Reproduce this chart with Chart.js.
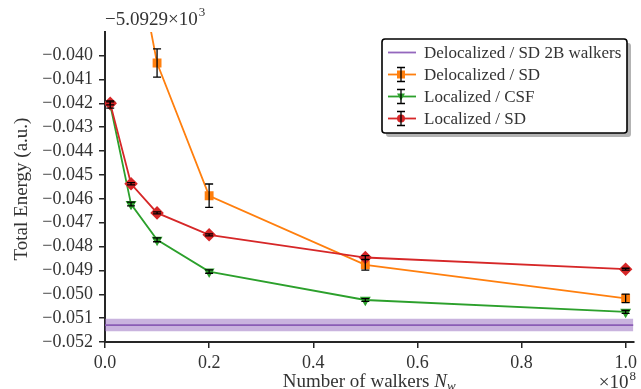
<!DOCTYPE html>
<html>
<head>
<meta charset="utf-8">
<script src="https://cdn.jsdelivr.net/npm/chart.js@4/dist/chart.umd.min.js"></script>
<style>
  html, body { margin: 0; padding: 0; background: #fff; }
  #wrap { width: 641px; height: 389px; }
</style>
</head>
<body>
<div id="wrap"><canvas id="chart"></canvas></div>
<script>
// data (x in units of 1e8 walkers, y offset from -5.0929e3)
var walkers = [0.01, 0.05, 0.1, 0.2, 0.5, 1.0];
var delocSD = [-0.0300, -0.0346, -0.04031, -0.04587, -0.04877, -0.05017];
var delocSDErr = [0.0006, 0.0006, 0.00059, 0.00049, 0.00022, 0.00018];
var locCSF = [-0.04205, -0.04622, -0.04772, -0.04905, -0.05024, -0.05074];
var locCSFErr = [0.00015, 0.00008, 0.00008, 0.00007, 0.00006, 0.00006];
var locSD = [-0.04200, -0.04537, -0.04659, -0.04751, -0.04846, -0.04895];
var locSDErr = [0.00006, 0.00005, 0.00004, 0.00004, 0.00008, 0.00004];
var band2B = -0.05129;
var band2BErr = 0.00026;
var xRange = [0, 1.015];
var yRange = [-0.052, -0.03901];
var xTicks = [0, 0.2, 0.4, 0.6, 0.8, 1.0];
var yTicks = [-0.052, -0.051, -0.050, -0.049, -0.048, -0.047, -0.046, -0.045, -0.044, -0.043, -0.042, -0.041, -0.040];
var legendLabels = ['Delocalized / SD 2B walkers', 'Delocalized / SD', 'Localized / CSF', 'Localized / SD'];

var FONT = '"Liberation Serif", "DejaVu Serif", serif';
var TXT = '#333';
var PURPLE = '#9467bd', ORANGE = '#ff7f0e', GREEN = '#2ca02c', RED = '#d62728';

function pts(xs, ys) {
    var out = [];
    for (var i = 0; i < xs.length; i++) out.push({ x: xs[i], y: ys[i] });
    return out;
}

// error bars drawn through the scales
var errorBars = {
    id: 'errorBars',
    afterDatasetsDraw: function(chart) {
        var ctx = chart.ctx, xs = chart.scales.x, ys = chart.scales.y, a = chart.chartArea;
        ctx.save();
        ctx.beginPath();
        ctx.rect(a.left, a.top, a.right - a.left, a.bottom - a.top);
        ctx.clip();
        ctx.strokeStyle = '#000';
        ctx.lineWidth = 1.3;
        chart.data.datasets.forEach(function(ds) {
            if (!ds.errors) return;
            for (var i = 0; i < ds.data.length; i++) {
                var px = xs.getPixelForValue(ds.data[i].x);
                var y1 = ys.getPixelForValue(ds.data[i].y + ds.errors[i]);
                var y2 = ys.getPixelForValue(ds.data[i].y - ds.errors[i]);
                ctx.beginPath();
                ctx.moveTo(px, y1); ctx.lineTo(px, y2);
                ctx.moveTo(px - 4, y1); ctx.lineTo(px + 4, y1);
                ctx.moveTo(px - 4, y2); ctx.lineTo(px + 4, y2);
                ctx.stroke();
            }
        });
        ctx.restore();
    }
};

// axis titles, offset texts and the boxed legend
var decorations = {
    id: 'decorations',
    afterDraw: function(chart) {
        var ctx = chart.ctx, a = chart.chartArea;
        ctx.save();
        ctx.fillStyle = TXT;
        ctx.textBaseline = 'alphabetic';

        // y title
        ctx.save();
        ctx.translate(27, (a.top + a.bottom) / 2 + 2);
        ctx.rotate(-Math.PI / 2);
        ctx.textAlign = 'center';
        ctx.font = '19px ' + FONT;
        ctx.fillText('Total Energy (a.u.)', 0, 0);
        ctx.restore();

        // x title with italic N and subscript w
        ctx.font = '19px ' + FONT;
        var t1 = 'Number of walkers ';
        var w1 = ctx.measureText(t1).width;
        ctx.font = 'italic 19px ' + FONT;
        var w2 = ctx.measureText('N').width;
        ctx.font = 'italic 13px ' + FONT;
        var w3 = ctx.measureText('w').width;
        var start = (a.left + a.right) / 2 - (w1 + w2 + w3) / 2;
        ctx.textAlign = 'left';
        ctx.font = '19px ' + FONT;
        ctx.fillText(t1, start, 387);
        ctx.font = 'italic 19px ' + FONT;
        ctx.fillText('N', start + w1, 387);
        ctx.font = 'italic 13px ' + FONT;
        ctx.fillText('w', start + w1 + w2, 390);

        // offset texts
        ctx.font = '19px ' + FONT;
        ctx.fillText('\u22125.0929\u00d710', 105, 25);
        var wo = ctx.measureText('\u22125.0929\u00d710').width;
        ctx.font = '13px ' + FONT;
        ctx.fillText('3', 105 + wo + 1, 16);

        ctx.font = '19px ' + FONT;
        var wx = ctx.measureText('\u00d710').width;
        ctx.font = '13px ' + FONT;
        var wx2 = ctx.measureText('8').width;
        ctx.font = '19px ' + FONT;
        ctx.fillText('\u00d710', 636 - wx - wx2 - 1, 388);
        ctx.font = '13px ' + FONT;
        ctx.fillText('8', 636 - wx2, 380);

        // legend box
        var bx = 382, by = 39, bw = 245, bh = 94, r = 3;
        function rr(x, y) {
            ctx.beginPath();
            ctx.moveTo(x + r, y);
            ctx.arcTo(x + bw, y, x + bw, y + bh, r);
            ctx.arcTo(x + bw, y + bh, x, y + bh, r);
            ctx.arcTo(x, y + bh, x, y, r);
            ctx.arcTo(x, y, x + bw, y, r);
            ctx.closePath();
        }
        ctx.fillStyle = '#b3b3b3';
        rr(bx + 4, by + 4); ctx.fill();
        ctx.fillStyle = '#fff';
        rr(bx, by); ctx.fill();
        ctx.strokeStyle = '#000';
        ctx.lineWidth = 1.6;
        rr(bx, by); ctx.stroke();

        var colors = [PURPLE, ORANGE, GREEN, RED];
        var markers = [null, 'rect', 'tri', 'circle'];
        var rows = [52.5, 74.5, 96.5, 118.5];
        for (var i = 0; i < rows.length; i++) {
            var y = rows[i];
            ctx.strokeStyle = colors[i];
            ctx.lineWidth = 1.8;
            ctx.beginPath(); ctx.moveTo(388, y); ctx.lineTo(416, y); ctx.stroke();
            if (markers[i]) {
                ctx.fillStyle = colors[i];
                ctx.beginPath();
                if (markers[i] === 'rect') ctx.rect(397, y - 4, 8, 8);
                else if (markers[i] === 'tri') { ctx.moveTo(397, y - 3); ctx.lineTo(405, y - 3); ctx.lineTo(401, y + 4); ctx.closePath(); }
                else ctx.arc(401, y, 4, 0, Math.PI * 2);
                ctx.fill();
                ctx.strokeStyle = '#000';
                ctx.lineWidth = 1.3;
                ctx.beginPath();
                ctx.moveTo(401, y - 7); ctx.lineTo(401, y + 7);
                ctx.moveTo(397, y - 7); ctx.lineTo(405, y - 7);
                ctx.moveTo(397, y + 7); ctx.lineTo(405, y + 7);
                ctx.stroke();
            }
            ctx.fillStyle = TXT;
            ctx.font = '17px ' + FONT;
            ctx.textAlign = 'left';
            ctx.textBaseline = 'middle';
            ctx.fillText(legendLabels[i], 424, y + 1);
        }
        ctx.restore();
    }
};

function minusFmt(v, digits) {
    return v.toFixed(digits).replace('-', '\u2212');
}

var ctx = document.getElementById('chart').getContext('2d');
new Chart(ctx, {
    type: 'line',
    data: {
        datasets: [
            { label: 'band_lo', data: pts(xRange, [band2B - band2BErr, band2B - band2BErr]), borderWidth: 0, pointRadius: 0, fill: false, order: 10 },
            { label: 'band_hi', data: pts(xRange, [band2B + band2BErr, band2B + band2BErr]), borderWidth: 0, pointRadius: 0, fill: '-1', backgroundColor: 'rgba(148,103,189,0.5)', order: 9 },
            { label: legendLabels[0], data: pts(xRange, [band2B, band2B]), borderColor: '#8a5cb5', borderWidth: 1.8, pointRadius: 0, order: 8 },
            { label: legendLabels[1], data: pts(walkers, delocSD), errors: delocSDErr, borderColor: ORANGE, backgroundColor: ORANGE, borderWidth: 1.8, pointStyle: 'rect', pointRadius: 5, order: 7 },
            { label: legendLabels[2], data: pts(walkers, locCSF), errors: locCSFErr, borderColor: GREEN, backgroundColor: GREEN, borderWidth: 1.8, pointStyle: 'triangle', pointRotation: 180, pointRadius: 4.5, order: 6 },
            { label: legendLabels[3], data: pts(walkers, locSD), errors: locSDErr, borderColor: RED, backgroundColor: RED, borderWidth: 1.8, pointStyle: 'rectRot', pointRadius: 5.5, order: 5 }
        ]
    },
    options: {
        responsive: true,
        maintainAspectRatio: false,
        animation: false,
        devicePixelRatio: 1,
        layout: { padding: { top: 32, right: 6, left: 0, bottom: 0 } },
        elements: { line: { tension: 0 }, point: { borderWidth: 0, hoverRadius: 5 } },
        plugins: { legend: { display: false }, tooltip: { enabled: false } },
        scales: {
            x: {
                type: 'linear',
                min: xRange[0], max: xRange[1],
                afterBuildTicks: function(s) { s.ticks = xTicks.map(function(v) { return { value: v }; }); },
                afterFit: function(s) { s.height = 47; },
                grid: { drawOnChartArea: false, drawTicks: true, tickLength: 6, color: '#262626', lineWidth: 1.5 },
                border: { color: '#262626', width: 2 },
                ticks: { color: TXT, font: { family: FONT, size: 18 }, padding: 4, maxRotation: 0,
                    callback: function(v) { return v.toFixed(1); } }
            },
            y: {
                type: 'linear',
                min: yRange[0], max: yRange[1],
                afterBuildTicks: function(s) { s.ticks = yTicks.map(function(v) { return { value: v }; }); },
                afterFit: function(s) { s.width = 105; },
                grid: { drawOnChartArea: false, drawTicks: true, tickLength: 6, color: '#262626', lineWidth: 1.5 },
                border: { color: '#262626', width: 2 },
                ticks: { color: TXT, font: { family: FONT, size: 18 }, padding: 6,
                    callback: function(v) { return minusFmt(v, 3); } }
            }
        }
    },
    plugins: [errorBars, decorations]
});
</script>
</body>
</html>
